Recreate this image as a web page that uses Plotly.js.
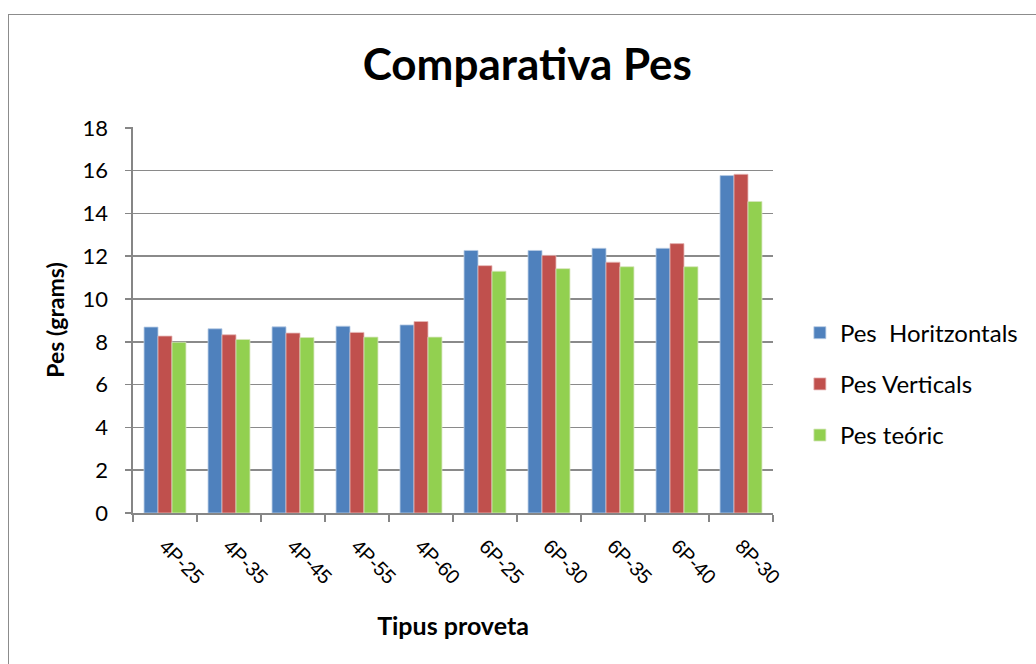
<!DOCTYPE html>
<html>
<head>
<meta charset="utf-8">
<script src="https://cdn.plot.ly/plotly-3.0.1.min.js"></script>
<style>
  html, body { margin: 0; padding: 0; background: #ffffff; }
  #wrap { position: relative; width: 1036px; height: 664px; overflow: hidden; }
  #chart { position: absolute; left: 0; top: 0; width: 1036px; height: 664px; }
  #frame { position: absolute; left: 8px; top: 14px; width: 1100px; height: 700px;
           border: 1.5px solid #8c8c8c; pointer-events: none; box-sizing: border-box; }
</style>
</head>
<body>
<div id="wrap">
  <div id="chart"></div>
  <div id="frame"></div>
</div>
<script>
// Specimen types and measured weights (grams)
const categories = ['4P-25', '4P-35', '4P-45', '4P-55', '4P-60', '6P-25', '6P-30', '6P-35', '6P-40', '8P-30'];
const pesHoritzontals = [8.69, 8.61, 8.70, 8.73, 8.79, 12.27, 12.27, 12.37, 12.37, 15.77];
const pesVerticals    = [8.27, 8.33, 8.41, 8.44, 8.95, 11.56, 12.04, 11.72, 12.59, 15.83];
const pesTeoric       = [7.98, 8.11, 8.20, 8.22, 8.22, 11.30, 11.42, 11.51, 11.51, 14.56];
const seriesNames = ['Pes  Horitzontals', 'Pes Verticals', 'Pes teóric'];
const yTicks = [0, 2, 4, 6, 8, 10, 12, 14, 16, 18];

const colors = ['#4F81BD', '#C0504D', '#92D050'];
const outlines = ['#b9cde5', '#e6b9b8', '#d7e4bd'];
const values = [pesHoritzontals, pesVerticals, pesTeoric];

const traces = values.map((v, i) => ({
  type: 'bar',
  x: categories,
  y: v,
  name: seriesNames[i],
  legendgroup: 'g' + i,
  marker: { color: colors[i], line: { color: outlines[i], width: 0.8 } },
  hoverinfo: 'x+y+name'
}));

const font = 'Lato, "Open Sans", sans-serif';

const layout = {
  width: 1036,
  height: 664,
  paper_bgcolor: '#ffffff',
  plot_bgcolor: '#ffffff',
  margin: { l: 133, r: 263, t: 127, b: 151 },
  barmode: 'group',
  bargap: 0.345,
  bargroupgap: 0,
  showlegend: true,
  title: {
    text: '<b>Comparativa Pes</b>',
    font: { family: font, size: 44, color: '#000000' },
    x: 0.509, xanchor: 'center', xref: 'container',
    y: 0.902, yanchor: 'middle'
  },
  xaxis: {
    type: 'category',
    tickson: 'boundaries',
    ticks: 'outside',
    ticklen: 7,
    tickcolor: '#868686',
    tickwidth: 1.5,
    showline: true,
    linecolor: '#868686',
    linewidth: 1.6,
    showgrid: false,
    tickangle: 45,
    ticklabelstandoff: 12,
    tickfont: { family: '"Liberation Sans", Arial, sans-serif', size: 20, color: '#000000' },
    title: {
      text: '<b>Tipus proveta</b>',
      font: { family: font, size: 25, color: '#000000' },
      standoff: 30
    }
  },
  yaxis: {
    range: [0, 18.04],
    tickvals: yTicks,
    ticktext: yTicks.map(String),
    ticks: 'outside',
    ticklen: 6,
    tickcolor: '#868686',
    tickwidth: 1.5,
    showline: true,
    linecolor: '#868686',
    linewidth: 1.6,
    showgrid: true,
    gridcolor: '#8a8a8a',
    gridwidth: 1.6,
    zeroline: false,
    ticklabelstandoff: 13,
    tickfont: { family: font, size: 22, color: '#000000' },
    title: {
      text: '<b>Pes (grams)</b>',
      font: { family: font, size: 23, color: '#000000' },
      standoff: 11
    }
  },
  legend: {
    x: 1.042, xanchor: 'left',
    y: 0.334, yanchor: 'middle',
    font: { family: font, size: 24, color: '#000000' },
    tracegroupgap: 17,
    traceorder: 'grouped',
    itemwidth: 30,
    bgcolor: 'rgba(0,0,0,0)'
  }
};

Plotly.newPlot('chart', traces, layout, { displayModeBar: false, staticPlot: true });
</script>
</body>
</html>
